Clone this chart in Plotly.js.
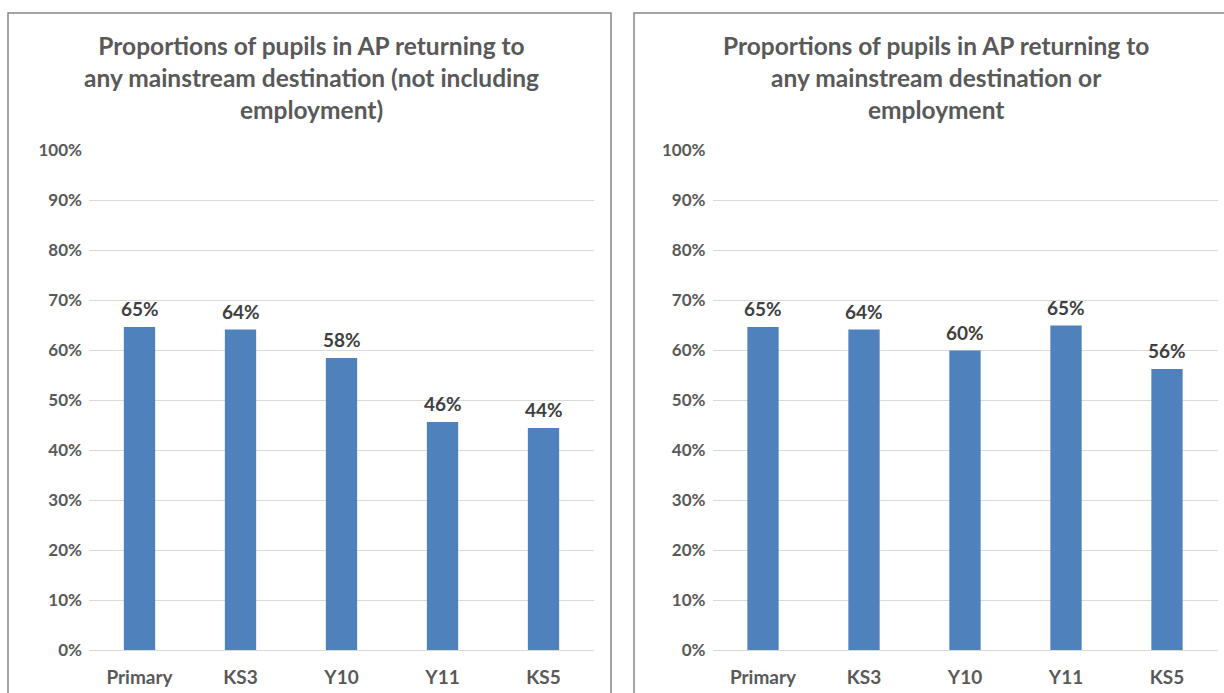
<!DOCTYPE html>
<html><head><meta charset="utf-8">
<script src="https://cdn.plot.ly/plotly-3.0.1.min.js"></script>
<style>html,body{margin:0;padding:0;background:#fff}#c{width:1224px;height:693px}</style>
</head><body><div id="c"></div>
<script>
const categories = ["Primary", "KS3", "Y10", "Y11", "KS5"];
const valuesNoEmployment = [0.646, 0.641, 0.584, 0.456, 0.444];
const valuesWithEmployment = [0.646, 0.641, 0.599, 0.649, 0.562];
const titleLeft = "Proportions of pupils in AP returning to<br>any mainstream destination (not including<br>employment)";
const titleRight = "Proportions of pupils in AP returning to<br>any mainstream destination or<br>employment";

const W = 1224, H = 693;
const px = x => x / W, py = y => 1 - y / H;
const FONT = "Lato, 'Open Sans', sans-serif";
const barColor = "#4f81bd";

const traces = [
  {type: "bar", x: categories, y: valuesNoEmployment, xaxis: "x", yaxis: "y",
   marker: {color: barColor}, width: 0.31, hoverinfo: "none"},
  {type: "bar", x: categories, y: valuesWithEmployment, xaxis: "x2", yaxis: "y2",
   marker: {color: barColor}, width: 0.31, hoverinfo: "none"}
];

function labelAnn(vals, xr, yr) {
  return vals.map((v, i) => ({
    x: categories[i], y: v, xref: xr, yref: yr, text: Math.round(v * 100) + "%",
    showarrow: false, yanchor: "bottom", yshift: 5,
    font: {family: FONT, size: 19, color: "#404040", weight: 700}
  }));
}

const yax = {
  range: [0, 1], dtick: 0.1, tickformat: ".0%", fixedrange: true,
  gridcolor: "#d9d9d9", gridwidth: 1, zeroline: true, zerolinecolor: "#d9d9d9", zerolinewidth: 1,
  showline: false, ticks: "", ticklabelstandoff: 6,
  tickfont: {family: FONT, size: 17, color: "#595959", weight: 700},
  domain: [py(650), py(150)]
};
const xax = {
  type: "category", showgrid: false, zeroline: false, showline: false, ticks: "",
  tickfont: {family: FONT, size: 19, color: "#595959", weight: 700}, fixedrange: true,
  ticklabelstandoff: 14
};

const layout = {
  width: W, height: H, margin: {l: 0, r: 0, t: 0, b: 0},
  paper_bgcolor: "#fff", plot_bgcolor: "rgba(0,0,0,0)", showlegend: false,
  xaxis: Object.assign({}, xax, {domain: [px(89), px(594)], anchor: "y"}),
  xaxis2: Object.assign({}, xax, {domain: [px(712.5), px(1217.5)], anchor: "y2"}),
  yaxis: Object.assign({}, yax, {anchor: "x"}),
  yaxis2: Object.assign({}, yax, {anchor: "x2"}),
  shapes: [
    {type: "rect", xref: "paper", yref: "paper", x0: px(8), x1: px(611), y0: py(720), y1: py(13),
     line: {color: "#868686", width: 1.5}, fillcolor: "rgba(0,0,0,0)", layer: "below"},
    {type: "rect", xref: "paper", yref: "paper", x0: px(634), x1: px(1240), y0: py(720), y1: py(13),
     line: {color: "#868686", width: 1.5}, fillcolor: "rgba(0,0,0,0)", layer: "below"}
  ],
  annotations: [
    {x: px(311), y: py(78), xref: "paper", yref: "paper", text: titleLeft, showarrow: false,
     xanchor: "center", yanchor: "middle", align: "center",
     font: {family: FONT, size: 24.5, color: "#595959", weight: 700}},
    {x: px(936), y: py(78), xref: "paper", yref: "paper", text: titleRight, showarrow: false,
     xanchor: "center", yanchor: "middle", align: "center",
     font: {family: FONT, size: 24.5, color: "#595959", weight: 700}}
  ].concat(labelAnn(valuesNoEmployment, "x", "y"), labelAnn(valuesWithEmployment, "x2", "y2"))
};

Plotly.newPlot("c", traces, layout, {displayModeBar: false, staticPlot: true});
</script></body></html>
